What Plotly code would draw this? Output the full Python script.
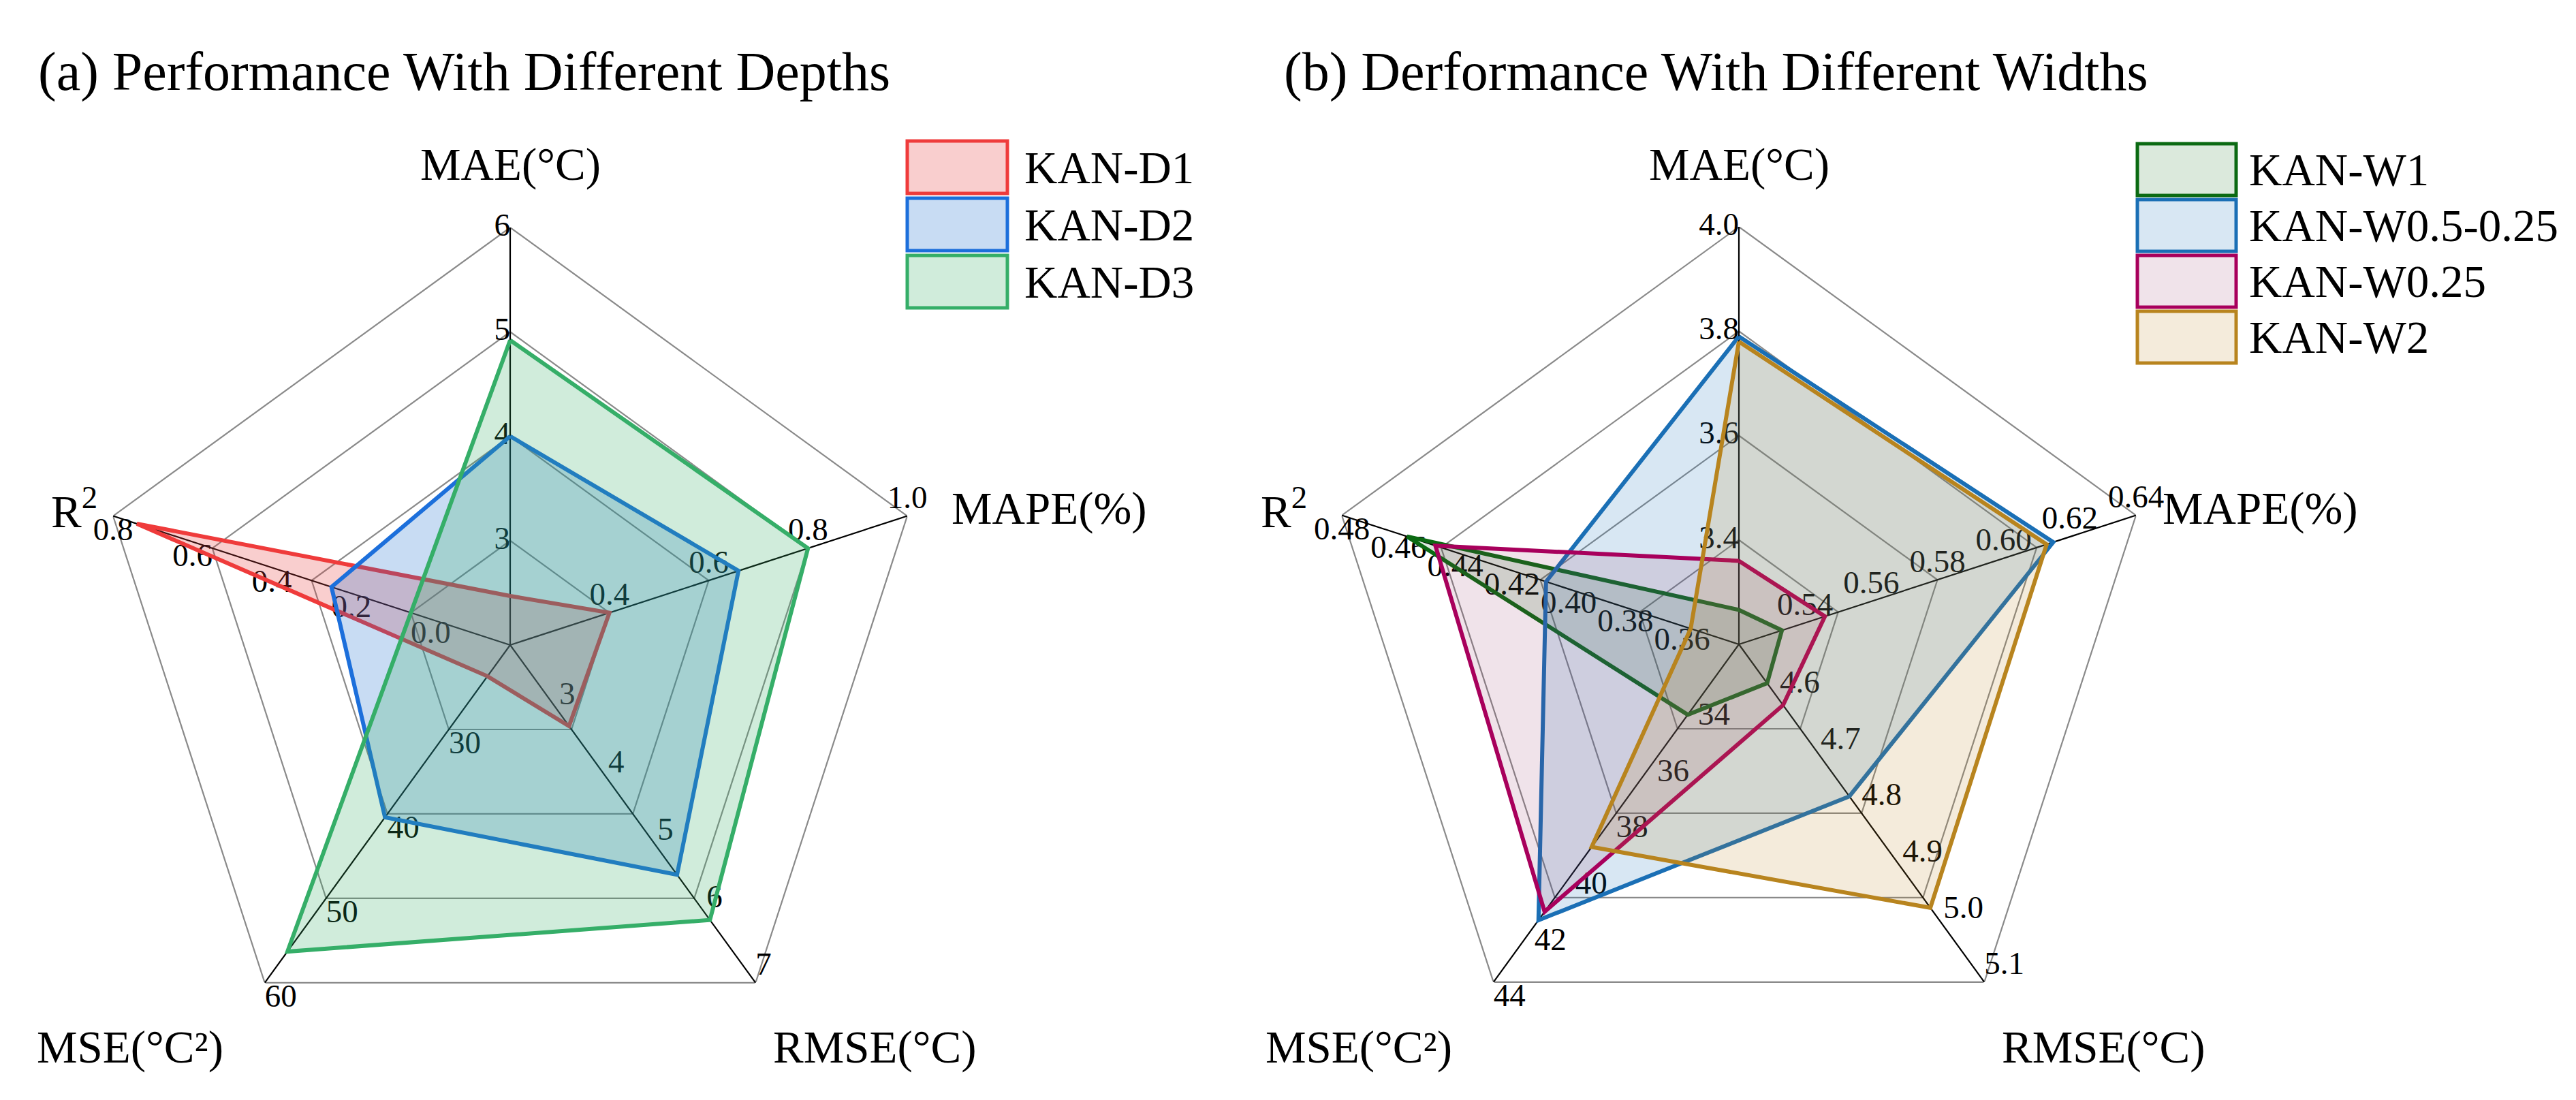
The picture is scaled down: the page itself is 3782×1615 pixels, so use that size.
import plotly.graph_objects as go

# ---------------- data ----------------
AXES = ["MAE", "MAPE", "RMSE", "MSE", "R2"]
AXIS_TITLES = ["MAE(°C)", "MAPE(%)", "RMSE(°C)", "MSE(°C²)", "R<sup>2</sup>"]

# (a) depths  -- values in order MAE, MAPE, RMSE, MSE, R2
DEPTH_NAMES = ["KAN-D1", "KAN-D2", "KAN-D3"]
KAN_D1 = [2.47, 0.40, 3.2, 23.7, 0.74]
KAN_D2 = [4.0, 0.66, 5.4, 40.4, 0.25]
KAN_D3 = [4.92, 0.80, 6.07, 56.3, 0.05]
DEPTH_MIN = [2, 0.2, 2, 20, -0.2]
DEPTH_MAX = [6, 1.0, 7, 60, 0.8]
DEPTH_TICK_LABELS = [
    ["3", "4", "5", "6"],
    ["0.4", "0.6", "0.8", "1.0"],
    ["3", "4", "5", "6", "7"],
    ["30", "40", "50", "60"],
    ["0.0", "0.2", "0.4", "0.6", "0.8"],
]

# (b) widths
WIDTH_NAMES = ["KAN-W1", "KAN-W0.5-0.25", "KAN-W0.25", "KAN-W2"]
KAN_W1 = [3.266, 0.533, 4.569, 34.5, 0.457]
KAN_W05 = [3.79, 0.615, 4.77, 41.8, 0.408]
KAN_W025 = [3.36, 0.546, 4.608, 41.5, 0.447]
KAN_W2 = [3.78, 0.613, 4.968, 39.2, 0.357]
WIDTH_MIN = [3.2, 0.52, 4.5, 32, 0.34]
WIDTH_MAX = [4.0, 0.64, 5.1, 44, 0.48]
WIDTH_TICK_LABELS = [
    ["3.4", "3.6", "3.8", "4.0"],
    ["0.54", "0.56", "0.58", "0.60", "0.62", "0.64"],
    ["4.6", "4.7", "4.8", "4.9", "5.0", "5.1"],
    ["34", "36", "38", "40", "42", "44"],
    ["0.36", "0.38", "0.40", "0.42", "0.44", "0.46", "0.48"],
]

GRID_LEVELS = [0.25, 0.5, 0.75, 1.0]

DEPTH_LINE = ["#EF3B3B", "#1C6FDB", "#35AE68"]
DEPTH_FILL = ["rgba(230,60,60,0.25)", "rgba(25,110,205,0.24)", "rgba(50,175,100,0.23)"]
WIDTH_LINE = ["#0B6A12", "#1A6FB5", "#A8005C", "#B8841E"]
WIDTH_FILL = ["rgba(11,106,18,0.15)", "rgba(26,111,181,0.17)", "rgba(140,40,95,0.13)", "rgba(184,132,30,0.16)"]

TICK_POS = ["middle left", "top center", "top right", "bottom right", "bottom center"]

W, H = 3782, 1615
FONT = "Liberation Serif"


def norm(vals, mn, mx):
    return [(v - a) / (b - a) for v, a, b in zip(vals, mn, mx)]


fig = go.Figure()


def add_radar(polar, series, names, lines, fills, mn, mx, tick_labels):
    closed = AXES + [AXES[0]]
    # grid rings
    for lv in GRID_LEVELS:
        fig.add_trace(go.Scatterpolar(r=[lv] * 6, theta=closed, mode="lines",
                                      line=dict(color="#8a8a8a", width=2.2),
                                      subplot=polar, showlegend=False, hoverinfo="skip"))
    # spokes
    sr, st = [], []
    for a in AXES:
        sr += [0, 1, None]
        st += [a, a, None]
    fig.add_trace(go.Scatterpolar(r=sr, theta=st, mode="lines",
                                  line=dict(color="black", width=2.2),
                                  subplot=polar, showlegend=False, hoverinfo="skip"))
    # tick labels
    tr, tt, tx, tp = [], [], [], []
    for i, a in enumerate(AXES):
        for lab in tick_labels[i]:
            v = float(lab)
            tr.append((v - mn[i]) / (mx[i] - mn[i]))
            tt.append(a)
            tx.append(lab)
            tp.append(TICK_POS[i])
    fig.add_trace(go.Scatterpolar(r=tr, theta=tt, mode="text", text=tx, textposition=tp,
                                  textfont=dict(family=FONT, size=47, color="black"),
                                  cliponaxis=False,
                                  subplot=polar, showlegend=False, hoverinfo="skip"))
    # series
    for vals, nm, lc, fc in zip(series, names, lines, fills):
        r = norm(vals, mn, mx)
        fig.add_trace(go.Scatterpolar(r=r + [r[0]], theta=closed, mode="lines", name=nm,
                                      fill="toself", fillcolor=fc,
                                      line=dict(color=lc, width=6),
                                      cliponaxis=False,
                                      subplot=polar, showlegend=False))


add_radar("polar", [KAN_D1, KAN_D2, KAN_D3], DEPTH_NAMES, DEPTH_LINE, DEPTH_FILL,
          DEPTH_MIN, DEPTH_MAX, DEPTH_TICK_LABELS)
add_radar("polar2", [KAN_W1, KAN_W05, KAN_W025, KAN_W2], WIDTH_NAMES, WIDTH_LINE, WIDTH_FILL,
          WIDTH_MIN, WIDTH_MAX, WIDTH_TICK_LABELS)

R = 613
CL = (741, 939)
CR = (2545, 938)


def dom(c):
    return dict(x=[(c[0] - R) / W, (c[0] + R) / W],
                y=[1 - (c[1] + R) / H, 1 - (c[1] - R) / H])


polar_common = dict(
    bgcolor="rgba(0,0,0,0)",
    radialaxis=dict(range=[0, 1], visible=False),
    angularaxis=dict(type="category", categoryarray=AXES, rotation=90,
                     direction="clockwise", visible=False),
)

fig.update_layout(
    width=W, height=H, autosize=False,
    margin=dict(l=0, r=0, t=0, b=0),
    paper_bgcolor="white", plot_bgcolor="white",
    font=dict(family=FONT, color="black"),
    polar=dict(domain=dom(CL), **polar_common),
    polar2=dict(domain=dom(CR), **polar_common),
    showlegend=False,
)


def px(x):
    return x / W


def py(y):
    return 1 - y / H


ann = []
# titles
ann.append(dict(x=px(46), y=py(97), text="(a) Performance With Different Depths",
                xanchor="left", yanchor="middle", font=dict(size=80)))
ann.append(dict(x=px(1875), y=py(97), text="(b) Derformance With Different Widths",
                xanchor="left", yanchor="middle", font=dict(size=80)))


# axis titles (offsets from chart centres)
def axis_titles(c, mape_left, r2_off):
    out = []
    out.append(dict(x=px(c[0]), y=py(234), text=AXIS_TITLES[0], xanchor="center", yanchor="middle"))
    out.append(dict(x=px(mape_left), y=py(738), text=AXIS_TITLES[1], xanchor="left", yanchor="middle"))
    out.append(dict(x=px(c[0] + 535), y=py(1529), text=AXIS_TITLES[2], xanchor="center", yanchor="middle"))
    out.append(dict(x=px(c[0] - 558), y=py(1529), text=AXIS_TITLES[3], xanchor="center", yanchor="middle"))
    out.append(dict(x=px(c[0] + r2_off), y=py(738), text=AXIS_TITLES[4], xanchor="center", yanchor="middle"))
    for o in out:
        o["font"] = dict(size=67)
    return out


ann += axis_titles(CL, 1387, -640)
ann += axis_titles(CR, 3165, -668)

shapes = []


def legend(x0, top0, pitch, bw, bh, names, lines, fills, tx):
    for i, (nm, lc, fc) in enumerate(zip(names, lines, fills)):
        t = top0 + i * pitch
        shapes.append(dict(type="rect", xref="paper", yref="paper",
                           x0=px(x0), x1=px(x0 + bw), y0=py(t + bh), y1=py(t),
                           line=dict(color=lc, width=5), fillcolor=fc))
        ann.append(dict(x=px(tx), y=py(t + bh / 2), text=nm, xanchor="left", yanchor="middle",
                        font=dict(size=67)))


legend(1324, 199, 84, 147, 77, DEPTH_NAMES, DEPTH_LINE, DEPTH_FILL, 1494)
legend(3130, 203, 82, 145, 76, WIDTH_NAMES, WIDTH_LINE, WIDTH_FILL, 3292)

for a in ann:
    a.setdefault("showarrow", False)
    a["xref"] = "paper"
    a["yref"] = "paper"

fig.update_layout(annotations=ann, shapes=shapes)

fig.write_html("out.html")
